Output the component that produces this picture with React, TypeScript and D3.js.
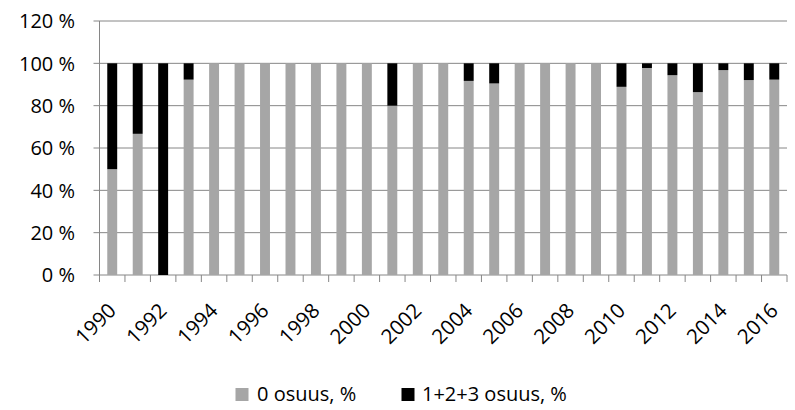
import React from "react";
import * as d3 from "d3";

const years = d3.range(1990, 2017).map(String);
const zeroShare = [50, 66.7, 0, 92.3, 100, 100, 100, 100, 100, 100, 100, 80, 100, 100, 91.7, 90.5, 100, 100, 100, 100, 88.9, 97.8, 94.4, 86.4, 96.8, 92.1, 92.3];
const otherShare = zeroShare.map((v) => 100 - v);
const yTicks = [0, 20, 40, 60, 80, 100, 120];
const seriesNames = ["0 osuus, %", "1+2+3 osuus, %"];
const colors = ["#A6A6A6", "#000000"];

const W = 795, H = 410;
const left = 99.5, right = 787, top = 21, bottom = 275;
const font = "'Open Sans', sans-serif";

export default function App() {
  const x = d3.scaleBand<string>().domain(years).range([left, right]).paddingInner(0.61).paddingOuter(0.305);
  const xb = d3.scaleBand<string>().domain(years).range([left, right]);
  const y = d3.scaleLinear().domain([0, 120]).range([bottom, top]);
  return (
    <svg width={W} height={H} style={{ position: "absolute", left: 0, top: 0, background: "#fff" }}>
      {yTicks.map((t) => (
        <g key={t}>
          <line x1={left - 6} x2={right} y1={y(t)} y2={y(t)} stroke="#868686" strokeWidth={1} />
          <text x={75} y={y(t)} dy="0.36em" textAnchor="end" fontFamily={font} fontSize={20} fill="#000">{t} %</text>
        </g>
      ))}
      <line x1={left} x2={left} y1={top} y2={bottom} stroke="#868686" />
      {years.map((yr) => (
        <line key={"t" + yr} x1={xb(yr)!} x2={xb(yr)!} y1={bottom} y2={bottom + 7} stroke="#868686" />
      ))}
      <line x1={right} x2={right} y1={bottom} y2={bottom + 7} stroke="#868686" />
      {years.map((yr, i) => (
        <g key={yr}>
          <rect x={x(yr)!} width={x.bandwidth()} y={y(zeroShare[i])} height={y(0) - y(zeroShare[i])} fill={colors[0]} />
          <rect x={x(yr)!} width={x.bandwidth()} y={y(100)} height={y(zeroShare[i]) - y(100)} fill={colors[1]} />
        </g>
      ))}
      {years.map((yr, i) =>
        i % 2 === 0 ? (
          <text key={"l" + yr} transform={`translate(${x(yr)! + x.bandwidth() / 2 + 5},${bottom + 37}) rotate(-45)`} textAnchor="end" fontFamily={font} fontSize={20.5} fill="#000">{yr}</text>
        ) : null
      )}
      <rect x={235.5} y={388} width={13} height={13} fill={colors[0]} />
      <text x={257} y={401} fontFamily={font} fontSize={20} fill="#000">{seriesNames[0]}</text>
      <rect x={401.5} y={388} width={13} height={13} fill={colors[1]} />
      <text x={422} y={401} fontFamily={font} fontSize={20} fill="#000">{seriesNames[1]}</text>
    </svg>
  );
}
